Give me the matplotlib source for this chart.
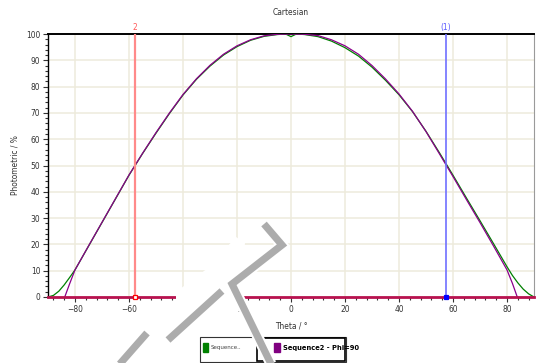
import matplotlib
matplotlib.use("Agg")
import matplotlib.pyplot as plt
from matplotlib.lines import Line2D
from matplotlib.patches import Rectangle, Polygon
from matplotlib.ticker import MultipleLocator
from matplotlib import font_manager
from matplotlib.font_manager import FontProperties

# ---- data -------------------------------------------------------------
theta_seq1 = [-90, -88, -86, -84, -82, -80, -75, -70, -65, -60, -55, -50, -45,
              -40, -35, -30, -25, -20, -15, -10, -5, -2, 0, 2, 5, 10, 15, 20,
              25, 30, 35, 40, 45, 50, 55, 60, 65, 70, 75, 80, 82, 84, 86, 88, 90]
photometric_seq1 = [0.0, 0.6, 2.2, 4.6, 7.4, 10.3, 19.3, 28.3, 37.3, 46.3, 54.5,
                    62.3, 69.8, 76.8, 82.8, 87.8, 92.0, 95.2, 97.6, 99.1, 99.8,
                    100.0, 99.0, 100.0, 99.8, 99.0, 97.3, 94.8, 91.6, 87.4, 82.4,
                    76.9, 70.5, 63.0, 54.8, 46.3, 37.6, 29.0, 20.3, 11.5, 8.2,
                    5.4, 3.0, 1.2, 0.0]

theta_seq2 = [-83.8, -82, -80, -75, -70, -65, -60, -55, -50, -45, -40, -35, -30,
              -25, -20, -15, -10, -5, 0, 5, 10, 15, 20, 25, 30, 35, 40, 45, 50,
              55, 60, 65, 70, 75, 80, 82, 83.8]
photometric_seq2 = [0.0, 5.0, 10.3, 19.4, 28.4, 37.4, 46.4, 54.6, 62.5, 70.0,
                    77.0, 83.0, 88.1, 92.3, 95.5, 97.8, 99.3, 99.9, 100.0, 99.9,
                    99.4, 97.8, 95.5, 92.3, 88.0, 82.9, 77.2, 70.6, 62.9, 54.4,
                    45.8, 37.0, 28.3, 19.4, 10.3, 5.2, 0.0]

marker_theta = [-57.8, 57.3]
marker_names = ["2", "(1)"]
marker_colors = ["#ff8a8a", "#7070ff"]
marker_text_colors = ["#ff5a5a", "#5a5aff"]

x_ticks = [-80, -60, -40, -20, 0, 20, 40, 60, 80]
y_ticks = [0, 10, 20, 30, 40, 50, 60, 70, 80, 90, 100]
legend_labels = ["Sequence..", "Sequence2 - Phi=90"]

# ---- fonts ------------------------------------------------------------
names = {f.name for f in font_manager.fontManager.ttflist}
if "Liberation Sans Narrow" in names:
    plt.rcParams["font.family"] = ["Liberation Sans Narrow", "DejaVu Sans"]
else:
    plt.rcParams["font.family"] = ["DejaVu Sans"]
    plt.rcParams["font.stretch"] = "condensed"

bold_path = font_manager.findfont(FontProperties(family="DejaVu Sans",
                                                 stretch="condensed",
                                                 weight="bold"))
bold_condensed = "Condensed" in bold_path
legend_bold_size = 5.4 if bold_condensed else 4.6

# ---- figure -----------------------------------------------------------
W, H = 537, 363
fig = plt.figure(figsize=(W / 100, H / 100), dpi=100)
fig.patch.set_facecolor("white")

ax = fig.add_axes([48 / W, 1 - 297 / H, (534 - 48) / W, (297 - 34) / H])
ax.set_xlim(-90, 90)
ax.set_ylim(0, 100)

grid_c = "#eeebdc"
ax.set_xticks(x_ticks)
ax.set_yticks(y_ticks)
ax.xaxis.set_minor_locator(MultipleLocator(4))
ax.yaxis.set_minor_locator(MultipleLocator(2))
ax.grid(True, which="major", color=grid_c, lw=1.1, zorder=0)
ax.set_axisbelow(True)

ax.tick_params(axis="both", which="major", labelsize=6.0, length=3.5,
               width=0.8, color="#333333", labelcolor="#333333", pad=2)
ax.tick_params(axis="both", which="minor", length=2.2, width=0.8,
               color="#333333")
ax.tick_params(axis="x", which="both", top=False)
ax.tick_params(axis="y", which="both", right=False)

for side in ("top", "left"):
    ax.spines[side].set_color("black")
ax.spines["top"].set_linewidth(1.4)
ax.spines["left"].set_linewidth(1.0)
ax.spines["right"].set_color("#9a9a9a")
ax.spines["right"].set_linewidth(0.8)
ax.spines["bottom"].set_visible(False)

ax.plot(theta_seq1, photometric_seq1, color="#008000", lw=0.9, zorder=3)
ax.plot(theta_seq2, photometric_seq2, color="#8b008b", lw=0.9, zorder=4)

# baseline of both sequences along zero
ax.axhline(0, color="#b8124f", lw=2.0, zorder=5, clip_on=False)

for t, name, c, tc, filled in zip(marker_theta, marker_names, marker_colors,
                                  marker_text_colors, [False, True]):
    ax.axvline(t, color=c, lw=1.6 if not filled else 1.2, zorder=6)
    ax.plot([t], [0], marker="s", ms=3.2, mec="red" if not filled else "blue",
            mfc="white" if not filled else "blue", mew=0.9, zorder=7,
            clip_on=False)
    ax.text(t, 100.8, name, color=tc, fontsize=6, ha="center", va="bottom")

ax.set_title("Cartesian", fontsize=6, color="#333333", pad=14)
ax.set_xlabel("Theta / °", fontsize=6, color="#333333")
ax.set_ylabel("Photometric / %", fontsize=6, color="#333333")
ax.xaxis.set_label_coords(0.5, -0.095)
ax.yaxis.set_label_coords(-0.058, 0.5)

# ---- legend -----------------------------------------------------------
def fx(px):
    return px / W


def fy(py):
    return 1 - py / H


fig.add_artist(Rectangle((fx(200), fy(362)), fx(346) - fx(200),
                         fy(337) - fy(362), transform=fig.transFigure,
                         fill=False, ec="#333333", lw=0.8))
fig.add_artist(Rectangle((fx(257), fy(361)), fx(345) - fx(257),
                         fy(338) - fy(361), transform=fig.transFigure,
                         fill=False, ec="black", lw=1.2))
fig.add_artist(Rectangle((fx(203), fy(352)), fx(208) - fx(203),
                         fy(343) - fy(352), transform=fig.transFigure,
                         color="#008000"))
fig.add_artist(Rectangle((fx(274), fy(352)), fx(280) - fx(274),
                         fy(343) - fy(352), transform=fig.transFigure,
                         color="#800080"))
fig.text(fx(211), fy(348), legend_labels[0], fontsize=4.4, color="#444444",
         va="center", ha="left")
fig.text(fx(283), fy(348), legend_labels[1], fontsize=legend_bold_size,
         color="black", va="center", ha="left", fontweight="bold")

# ---- watermark ----------------------------------------------------------
fig.add_artist(Polygon([(fx(236), fy(237)), (fx(245), fy(243)),
                        (fx(238), fy(318)), (fx(176), fy(318)),
                        (fx(176), fy(292)), (fx(208), fy(268))],
                       closed=True, transform=fig.transFigure,
                       fc="white", ec="none", zorder=20))

strokes = [
    [(264, 224), (282, 245), (232, 284), (272, 366)],
    [(222, 291), (168, 340)],
    [(147, 333), (118, 366)],
]
for s in strokes:
    xs = [fx(p[0]) for p in s]
    ys = [fy(p[1]) for p in s]
    fig.add_artist(Line2D(xs, ys, transform=fig.transFigure, color="white",
                          lw=8.0, solid_joinstyle="miter",
                          solid_capstyle="butt", zorder=21))
    fig.add_artist(Line2D(xs, ys, transform=fig.transFigure, color="#acacac",
                          lw=5.2, solid_joinstyle="miter",
                          solid_capstyle="butt", zorder=22))

fig.savefig("out.png", dpi=100, facecolor="white")
